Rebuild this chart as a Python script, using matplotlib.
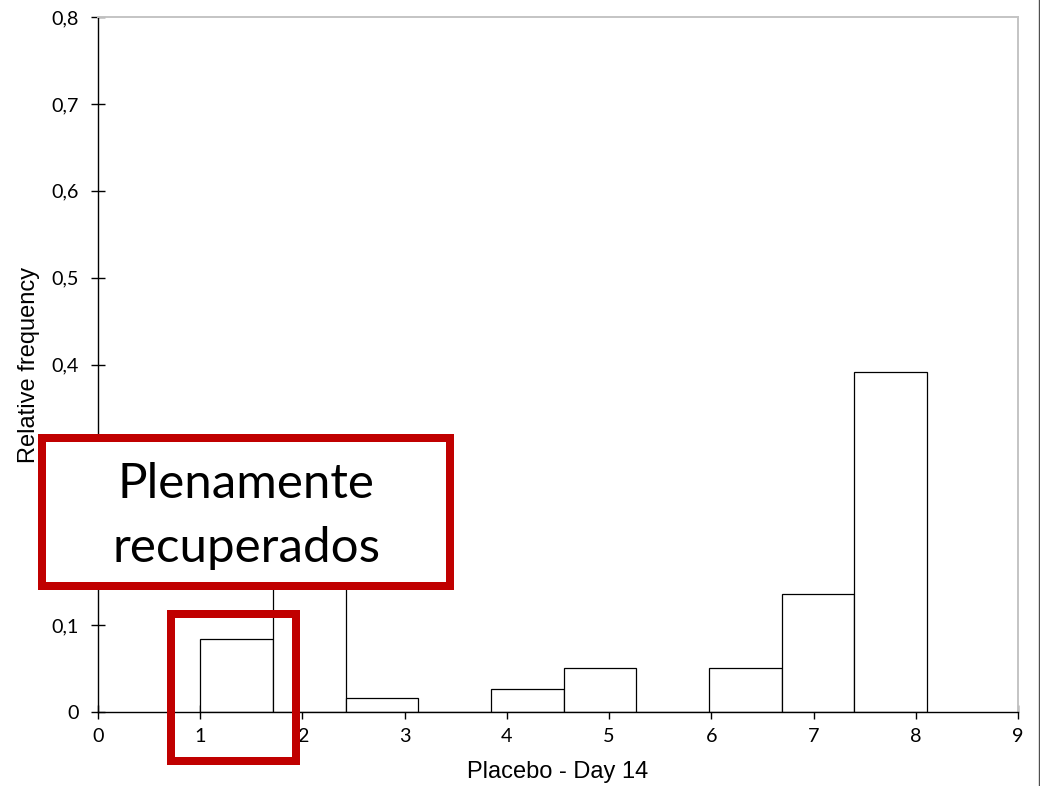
import matplotlib
matplotlib.use("Agg")
import matplotlib.pyplot as plt
from matplotlib.patches import Rectangle
from matplotlib.lines import Line2D
from matplotlib.ticker import FuncFormatter

# ---- data ----
bin_left = [1.0, 1.711, 2.422, 3.133, 3.844, 4.556, 5.267, 5.978, 6.689, 7.4]
bin_width = 0.711
rel_freq = [0.0844, 0.243, 0.0165, 0.0, 0.027, 0.051, 0.0, 0.051, 0.1355, 0.391]
x_ticks = [0, 1, 2, 3, 4, 5, 6, 7, 8, 9]
y_ticks = [0, 0.1, 0.2, 0.3, 0.4, 0.5, 0.6, 0.7, 0.8]
x_label = "Placebo - Day 14"
y_label = "Relative frequency"
box_lines = ["Plenamente", "recuperados"]

W, H = 1040, 786
fig = plt.figure(figsize=(W / 100, H / 100), dpi=100)
ax = fig.add_axes([98 / W, 1 - 712 / H, 920 / W, 695 / H])

ax.bar(bin_left, rel_freq, width=bin_width, align="edge",
       facecolor="white", edgecolor="black", linewidth=0.9, zorder=2)

ax.set_xlim(0, 9)
ax.set_ylim(0, 0.8)
ax.set_xticks(x_ticks)
ax.set_yticks(y_ticks)
ax.yaxis.set_major_formatter(FuncFormatter(
    lambda v, p: "0" if abs(v) < 1e-9 else ("%.1f" % v).replace(".", ",")))

for s in ("left", "bottom"):
    ax.spines[s].set_color("black")
    ax.spines[s].set_linewidth(1.0)
for s in ("top", "right"):
    ax.spines[s].set_color("#c4c4c4")
    ax.spines[s].set_linewidth(1.4)

ax.tick_params(axis="both", direction="inout", length=9.4, width=1.0,
               colors="black", labelsize=14.2)
ax.tick_params(axis="y", pad=9)
ax.tick_params(axis="x", pad=7)
for lab in ax.get_xticklabels() + ax.get_yticklabels():
    lab.set_fontfamily(["Lato", "DejaVu Sans"])

ax.set_xlabel(x_label, fontsize=17, family=["Liberation Sans", "DejaVu Sans"])
ax.set_ylabel(y_label, fontsize=17, family=["Liberation Sans", "DejaVu Sans"])
ax.xaxis.set_label_coords(0.5, (712 - 761) / 695)
ax.yaxis.set_label_coords((40 - 98) / 920, 0.5)

red = "#C00000"
lw_box = 8 * 72 / 100

# big annotation box
x0, x1, y0, y1 = 41.5, 450, 438, 585.5
fig.add_artist(Rectangle((x0 / W, 1 - y1 / H), (x1 - x0) / W, (y1 - y0) / H,
                         transform=fig.transFigure, facecolor="white",
                         edgecolor=red, linewidth=lw_box, zorder=10))
fig.text(246 / W, 1 - 498.3 / H, box_lines[0], ha="center", va="baseline",
         fontsize=35.5, family=["Lato", "DejaVu Sans"], zorder=11)
fig.text(246 / W, 1 - 561.7 / H, box_lines[1], ha="center", va="baseline",
         fontsize=35.5, family=["Lato", "DejaVu Sans"], zorder=11)

# small highlight box
x0, x1, y0, y1 = 171, 296, 614, 761
fig.add_artist(Rectangle((x0 / W, 1 - y1 / H), (x1 - x0) / W, (y1 - y0) / H,
                         transform=fig.transFigure, facecolor="none",
                         edgecolor=red, linewidth=lw_box, zorder=10))

# right edge frame line
fig.add_artist(Line2D([1038.5 / W, 1038.5 / W], [0, 1], transform=fig.transFigure,
                      color="#505050", linewidth=1.0, zorder=12))

fig.savefig("out.png", dpi=100)
